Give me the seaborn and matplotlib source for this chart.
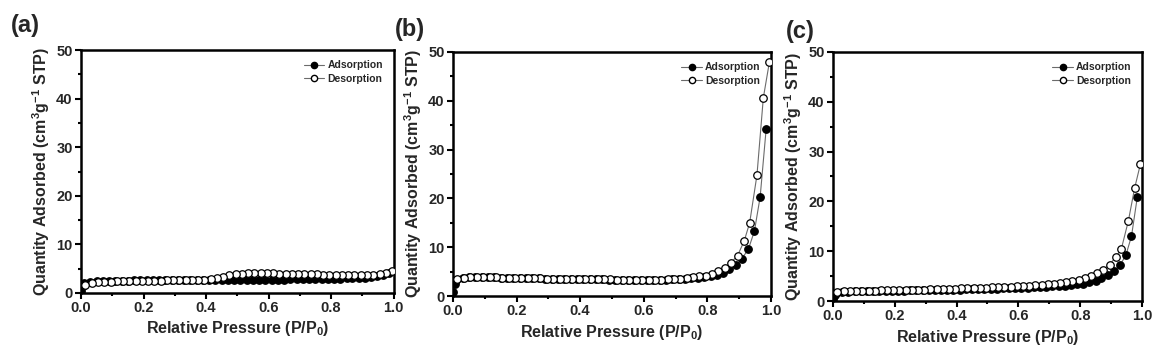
import numpy as np
import pandas as pd
import matplotlib
matplotlib.use("Agg")
import matplotlib.pyplot as plt
import seaborn as sns
from matplotlib.lines import Line2D

# ---------------- data ----------------
ads_x = [0.001, 0.005, 0.010, 0.030, 0.050, 0.070, 0.090, 0.110, 0.130, 0.150,
         0.170, 0.190, 0.210, 0.230, 0.250, 0.270, 0.290, 0.310, 0.330, 0.350,
         0.370, 0.390, 0.410, 0.430, 0.450, 0.470, 0.490, 0.510, 0.530, 0.550,
         0.570, 0.590, 0.610, 0.630, 0.650, 0.670, 0.690, 0.710, 0.730, 0.750,
         0.770, 0.790, 0.810, 0.830, 0.850, 0.868, 0.889, 0.908, 0.929, 0.948,
         0.966, 0.985]
des_x = [0.995, 0.976, 0.956, 0.933, 0.916, 0.895, 0.874, 0.855, 0.835, 0.815,
         0.795, 0.775, 0.755, 0.735, 0.715, 0.695, 0.675, 0.655, 0.635, 0.615,
         0.595, 0.575, 0.555, 0.535, 0.515, 0.495, 0.475, 0.455, 0.435, 0.415,
         0.395, 0.375, 0.355, 0.335, 0.315, 0.295, 0.275, 0.255, 0.235, 0.215,
         0.195, 0.175, 0.155, 0.135, 0.115, 0.095, 0.075, 0.055, 0.035, 0.012]

# panel (a)
a_ads = [0.4, 1.4, 2.1, 2.3, 2.4, 2.4, 2.5, 2.5, 2.5, 2.5,
         2.6, 2.6, 2.6, 2.6, 2.6, 2.6, 2.6, 2.6, 2.6, 2.6,
         2.6, 2.6, 2.7, 2.7, 2.7, 2.7, 2.7, 2.7, 2.7, 2.7,
         2.7, 2.7, 2.7, 2.7, 2.7, 2.8, 2.8, 2.8, 2.8, 2.8,
         2.9, 2.9, 2.9, 2.9, 3.0, 3.0, 3.1, 3.1, 3.2, 3.4,
         3.7, 4.1]
a_des = [4.6, 4.1, 3.9, 3.8, 3.7, 3.7, 3.7, 3.7, 3.8, 3.8,
         3.8, 3.8, 3.9, 3.9, 3.9, 4.0, 4.0, 4.0, 4.0, 4.1,
         4.1, 4.1, 4.1, 4.1, 4.0, 3.9, 3.7, 3.3, 3.0, 2.8,
         2.7, 2.7, 2.7, 2.6, 2.6, 2.6, 2.6, 2.5, 2.5, 2.5,
         2.5, 2.5, 2.4, 2.4, 2.4, 2.3, 2.3, 2.2, 2.0, 1.7]

# panel (b)
b_ads = [0.8, 2.5, 3.3, 3.7, 3.8, 3.8, 3.8, 3.8, 3.8, 3.7,
         3.7, 3.7, 3.6, 3.6, 3.6, 3.6, 3.5, 3.5, 3.5, 3.5,
         3.5, 3.4, 3.4, 3.4, 3.4, 3.4, 3.3, 3.3, 3.3, 3.3,
         3.3, 3.3, 3.3, 3.3, 3.3, 3.3, 3.4, 3.4, 3.5, 3.6,
         3.7, 3.9, 4.1, 4.4, 4.8, 5.5, 6.3, 7.6, 9.6, 13.3,
         20.3, 34.3]
b_des = [47.9, 40.6, 24.8, 15.0, 11.3, 8.3, 6.8, 5.8, 5.1, 4.6,
         4.2, 4.0, 3.8, 3.6, 3.5, 3.4, 3.4, 3.3, 3.3, 3.3,
         3.3, 3.3, 3.3, 3.3, 3.3, 3.4, 3.4, 3.4, 3.4, 3.4,
         3.4, 3.5, 3.5, 3.5, 3.5, 3.5, 3.6, 3.6, 3.6, 3.6,
         3.7, 3.7, 3.7, 3.8, 3.8, 3.8, 3.8, 3.8, 3.7, 3.4]

# panel (c)
c_ads = [0.4, 1.2, 1.6, 1.9, 1.9, 2.0, 2.0, 2.0, 2.0, 2.1,
         2.1, 2.1, 2.1, 2.1, 2.2, 2.2, 2.2, 2.2, 2.2, 2.3,
         2.3, 2.3, 2.3, 2.4, 2.4, 2.4, 2.5, 2.5, 2.5, 2.6,
         2.6, 2.6, 2.7, 2.7, 2.8, 2.8, 2.9, 3.0, 3.0, 3.1,
         3.2, 3.4, 3.5, 3.8, 4.1, 4.6, 5.2, 6.0, 7.2, 9.2,
         13.0, 20.9]
c_des = [27.5, 22.6, 16.1, 10.4, 8.9, 7.3, 6.3, 5.6, 5.1, 4.6,
         4.3, 4.0, 3.8, 3.6, 3.5, 3.4, 3.3, 3.2, 3.1, 3.0,
         3.0, 2.9, 2.9, 2.8, 2.8, 2.7, 2.7, 2.6, 2.6, 2.6,
         2.5, 2.5, 2.4, 2.4, 2.4, 2.3, 2.3, 2.3, 2.3, 2.2,
         2.2, 2.2, 2.2, 2.1, 2.1, 2.1, 2.1, 2.0, 2.0, 1.8]

panel_labels = ["(a)", "(b)", "(c)"]
series_names = ["Adsorption", "Desorption"]
x_ticks = [0.0, 0.2, 0.4, 0.6, 0.8, 1.0]
y_ticks = [0, 10, 20, 30, 40, 50]
x_label = "Relative Pressure (P/P$_0$)"
y_label = "Quantity Adsorbed (cm$^3$g$^{-1}$ STP)"

# ---------------- style ----------------
sns.set_theme(style="ticks")
plt.rcParams["font.family"] = ["Liberation Sans", "DejaVu Sans"]
plt.rcParams["font.weight"] = "bold"
plt.rcParams["axes.labelweight"] = "bold"
plt.rcParams["mathtext.fontset"] = "custom"
plt.rcParams["mathtext.rm"] = "Liberation Sans:bold"
plt.rcParams["mathtext.it"] = "Liberation Sans:bold"
plt.rcParams["mathtext.bf"] = "Liberation Sans:bold"

fig = plt.figure(figsize=(11.66, 3.61), dpi=100)
fig.patch.set_facecolor("white")

positions = [
    [0.0695, 0.1884, 0.268, 0.673],
    [0.3885, 0.180, 0.2727, 0.676],
    [0.7144, 0.1662, 0.265, 0.690],
]
label_pos = [(0.009, 0.962), (0.339, 0.950), (0.674, 0.945)]
ads_sets = [a_ads, b_ads, c_ads]
des_sets = [a_des, b_des, c_des]

line_col = "#6b6b6b"
ms = 5.4

for i in range(3):
    ax = fig.add_axes(positions[i])
    dfa = pd.DataFrame({"x": ads_x, "y": ads_sets[i]})
    dfd = pd.DataFrame({"x": des_x, "y": des_sets[i]})
    sns.lineplot(data=dfa, x="x", y="y", ax=ax, sort=False, color=line_col,
                 lw=0.8, marker="o", markersize=ms, markerfacecolor="black",
                 markeredgecolor="black", markeredgewidth=0.9, zorder=3)
    sns.lineplot(data=dfd, x="x", y="y", ax=ax, sort=False, color=line_col,
                 lw=0.8, marker="o", markersize=ms, markerfacecolor="white",
                 markeredgecolor="black", markeredgewidth=0.9, zorder=4)
    ax.set_xlim(0, 1.0)
    ax.set_ylim(0, 50)
    ax.set_xticks(x_ticks)
    ax.set_xticklabels([f"{v:.1f}" for v in x_ticks])
    ax.set_yticks(y_ticks)
    ax.set_yticklabels([str(v) for v in y_ticks])
    ax.set_xticks([0.1, 0.3, 0.5, 0.7, 0.9], minor=True)
    ax.set_yticks([5, 15, 25, 35, 45], minor=True)
    ax.tick_params(axis="both", which="major", direction="out", length=4,
                   width=1.5, labelsize=10.5, pad=2, color="black")
    ax.tick_params(axis="both", which="minor", direction="out", length=2.5,
                   width=1.5, color="black")
    for lab in ax.get_xticklabels() + ax.get_yticklabels():
        lab.set_fontweight("bold")
    for sp in ax.spines.values():
        sp.set_visible(True)
        sp.set_linewidth(1.8)
        sp.set_color("black")
    ax.set_xlabel(x_label, fontsize=11.5, fontweight="bold", labelpad=3)
    ax.set_ylabel(y_label, fontsize=11.5, fontweight="bold", labelpad=3)
    handles = [
        Line2D([], [], color=line_col, lw=0.8, marker="o", markersize=4.5,
               markerfacecolor="black", markeredgecolor="black"),
        Line2D([], [], color=line_col, lw=0.8, marker="o", markersize=4.5,
               markerfacecolor="white", markeredgecolor="black"),
    ]
    ax.legend(handles, series_names, loc="upper right", frameon=False,
              handlelength=2.0, handletextpad=0.3,
              labelspacing=0.35, borderaxespad=0.6,
              prop={"weight": "bold", "size": 7.5})
    fig.text(label_pos[i][0], label_pos[i][1], panel_labels[i], fontsize=17,
             fontweight="bold", ha="left", va="top")

fig.savefig("out.png", dpi=100, facecolor="white")
